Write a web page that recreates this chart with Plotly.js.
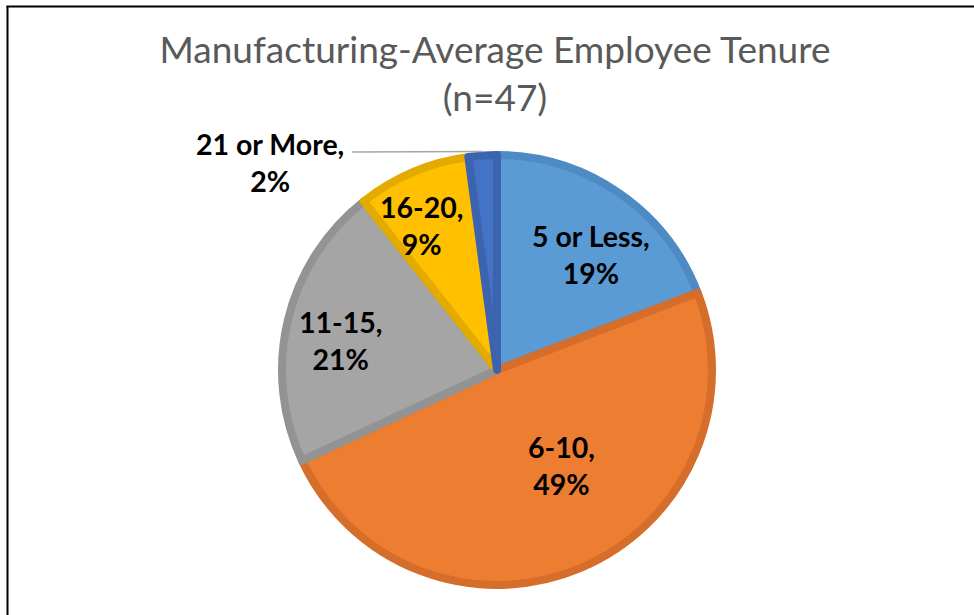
<!DOCTYPE html>
<html>
<head>
<meta charset="utf-8">
<script src="https://cdn.plot.ly/plotly-3.0.1.min.js"></script>
<style>html,body{margin:0;padding:0;background:#fff;}#chart{width:974px;height:615px;}</style>
</head>
<body>
<div id="chart"></div>
<script>
// ---- data ----
const categories = ["5 or Less", "6-10", "11-15", "16-20", "21 or More"];
const counts = [9, 23, 10, 4, 1];   // n = 47
const sampleSize = 47;

// ---- style ----
const fillColors = ["#5B9BD5", "#ED7D31", "#A5A5A5", "#FFC000", "#4472C4"];
const edgeColors = ["#4E8AC4", "#D56D2B", "#939393", "#E3AB00", "#3C64AE"];
// label centres in pixels (layout only)
const labelPx = [[591, 255], [561, 465], [340, 340], [421, 225], [270, 162]];

const W = 974, H = 615;
const cx = 497, cy = 370, R = 215;
const total = counts.reduce((a, b) => a + b, 0);

const annotations = categories.map((c, i) => ({
  xref: "paper", yref: "paper",
  x: labelPx[i][0] / W, y: 1 - labelPx[i][1] / H,
  xanchor: "center", yanchor: "middle", align: "center",
  showarrow: false,
  text: "<b>" + c + ",<br>" + Math.round(counts[i] / total * 100) + "%</b>",
  font: {family: "Lato, 'Open Sans', sans-serif", size: 28.5, color: "#000"}
}));

// leader line for the last (small) slice, from the label to the slice's outer edge
let cum = 0;
for (let i = 0; i < counts.length - 1; i++) cum += counts[i];
const midAng = (cum + counts[counts.length - 1] / 2) / total * 2 * Math.PI;
const ex = cx + (R + 4) * Math.sin(midAng), ey = cy - (R + 4) * Math.cos(midAng);

const shapes = [
  {type: "line", xref: "paper", yref: "paper", x0: 352 / W, y0: 1 - 152 / H, x1: ex / W, y1: 1 - ey / H,
   line: {color: "#A6A6A6", width: 1.5}},
  // chart frame (left and top edges)
  {type: "line", xref: "paper", yref: "paper", x0: 7.5 / W, y0: 0, x1: 7.5 / W, y1: 1 - 6 / H,
   line: {color: "#000", width: 2}},
  {type: "line", xref: "paper", yref: "paper", x0: 6.5 / W, y0: 1 - 6.5 / H, x1: 1, y1: 1 - 6.5 / H,
   line: {color: "#000", width: 2}}
];

const trace = {
  type: "pie",
  labels: categories,
  values: counts,
  sort: false,
  direction: "clockwise",
  rotation: 0,
  textinfo: "none",
  hoverinfo: "label+percent",
  marker: {colors: fillColors, line: {color: edgeColors, width: 8}},
  domain: {x: [(cx - R) / W, (cx + R) / W], y: [1 - (cy + R) / H, 1 - (cy - R) / H]},
  showlegend: false
};

const layout = {
  width: W, height: H,
  margin: {l: 0, r: 0, t: 0, b: 0},
  paper_bgcolor: "#fff",
  title: {
    text: "Manufacturing-Average Employee Tenure<br>(n=" + sampleSize + ")",
    font: {family: "Lato, 'Open Sans', sans-serif", size: 37, color: "#595959"},
    x: 0.5 + 8 / W, xanchor: "center", y: 1 - 63 / H, yanchor: "middle"
  },
  annotations: annotations,
  shapes: shapes
};

Plotly.newPlot("chart", [trace], layout, {displayModeBar: false, staticPlot: true});
</script>
</body>
</html>
